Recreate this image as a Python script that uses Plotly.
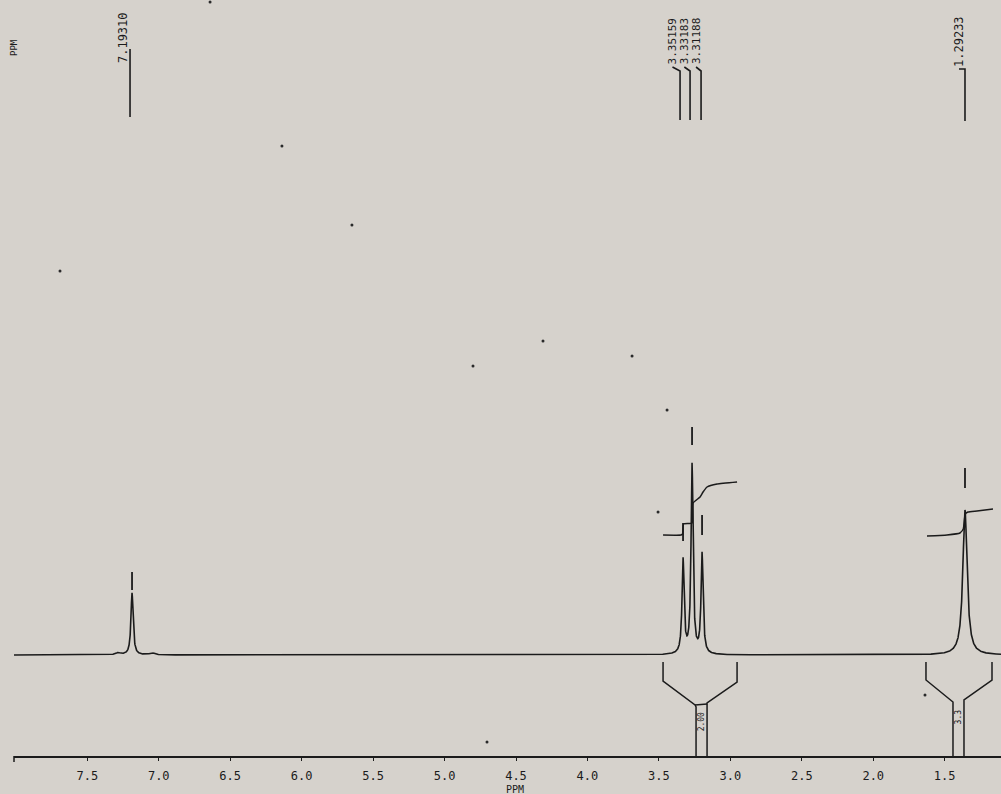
import numpy as np
import plotly.graph_objects as go

# ---------------- data ----------------
# main resonances (ppm, height in plot units above baseline, half width in ppm)
peak_ppm = [7.187, 3.331, 3.268, 3.198, 1.358]
peak_height = [62, 94, 189, 100, 145]
peak_hwhm = [0.009, 0.0085, 0.0085, 0.0085, 0.018]
# tiny satellites beside the 7.19 line
sat_ppm = [7.285, 7.047]
sat_height = [2, 2]
sat_hwhm = [0.02, 0.02]

# peak-pick labels printed at the top
label_text = ["7.19310", "3.35159", "3.33183", "3.31188", "1.29233"]

# integral traces (ppm, plot units)
int1_ppm = [3.471, 3.345, 3.334, 3.328, 3.268, 3.261, 3.212, 3.191, 3.163, 3.093, 2.953]
int1_val = [120, 120, 121, 131, 132, 152, 158, 163, 168, 171, 173]
int2_ppm = [1.624, 1.484, 1.393, 1.370, 1.356, 1.337, 1.274, 1.162]
int2_val = [119, 120, 122, 126, 141, 143, 144, 146]
integral_text = ["2.00", "3.3"]

# peak marker bars above the peaks (ppm, low, high)
mark_ppm = [7.187, 3.331, 3.268, 3.198, 1.358]
mark_lo = [65, 114, 210, 120, 167]
mark_hi = [83, 132, 228, 140, 187]

# axis ticks
tick_vals = [7.5, 7.0, 6.5, 6.0, 5.5, 5.0, 4.5, 4.0, 3.5, 3.0, 2.5, 2.0, 1.5]
tick_text = ["7.5", "7.0", "6.5", "6.0", "5.5", "5.0", "4.5", "4.0", "3.5", "3.0", "2.5", "2.0", "1.5"]

# specks of dust on the scanned sheet
speck_ppm = [6.138, 5.648, 7.691, 4.311, 4.801, 3.688, 3.443, 4.703, 1.638, 3.506, 6.641]
speck_val = [509, 430, 384, 314, 289, 299, 245, -87, -40, 143, 653]

# ---------------- geometry / style ----------------
PPM_LEFT, PPM_RIGHT = 8.013, 1.106
Y_LO, Y_HI = -101, 655
BG = "#d6d2cc"
INK = "#1b1b1b"
MONO = "DejaVu Sans Mono, Liberation Mono, monospace"

grid = np.linspace(PPM_LEFT, PPM_RIGHT, 14000)


def lorentz(x, c, h, w):
    return h / (1.0 + ((x - c) / w) ** 2)


spec = np.zeros_like(grid)
for c, h, w in zip(peak_ppm + sat_ppm, peak_height + sat_height, peak_hwhm + sat_hwhm):
    spec += lorentz(grid, c, h, w)

fig = go.Figure()

# spectrum
fig.add_trace(go.Scatter(x=grid, y=spec, mode="lines",
                         line=dict(color=INK, width=1.6), hoverinfo="skip"))

# integrals
fig.add_trace(go.Scatter(x=int1_ppm, y=int1_val, mode="lines",
                         line=dict(color=INK, width=1.5, shape="spline", smoothing=0.4),
                         hoverinfo="skip"))
fig.add_trace(go.Scatter(x=int2_ppm, y=int2_val, mode="lines",
                         line=dict(color=INK, width=1.5, shape="spline", smoothing=0.4),
                         hoverinfo="skip"))

# peak markers
mx, my = [], []
for p, lo, hi in zip(mark_ppm, mark_lo, mark_hi):
    mx += [p, p, None]
    my += [lo, hi, None]
fig.add_trace(go.Scatter(x=mx, y=my, mode="lines", line=dict(color=INK, width=1.8),
                         hoverinfo="skip"))

# label leader lines -- geometry
leader_ppm = [7.201, 3.352, 3.282, 3.205, 1.358]
leader_top = [606, 586, 586, 586, 586]
leader_bot = [538, 535, 535, 535, 534]
text_ppm = [7.250, 3.405, 3.322, 3.240, 1.400]
text_y = [617, 614, 614, 614, 614]
lx, ly = [], []
for i, (p, t, b) in enumerate(zip(leader_ppm, leader_top, leader_bot)):
    if i in (1, 2, 3):
        lx += [text_ppm[i], p, p, None]
        ly += [t + 2, t - 2, b, None]
    elif i == 4:
        lx += [text_ppm[i], p, p, None]
        ly += [t, t, b, None]
    else:
        lx += [p, p, None]
        ly += [t, b, None]
fig.add_trace(go.Scatter(x=lx, y=ly, mode="lines", line=dict(color=INK, width=1.6),
                         hoverinfo="skip"))

# integral brackets under the baseline
bx = [3.471, 3.471, 3.247, 3.240, 3.240, None,
      2.953, 2.953, 3.163, 3.163, None,
      3.247, 3.163, None,
      1.631, 1.631, 1.442, 1.442, None,
      1.169, 1.169, 1.365, 1.365, None]
by = [-7, -26, -50, -52, Y_LO, None,
      -7, -27, -48, Y_LO, None,
      -50, -49, None,
      -7, -25, -47, Y_LO, None,
      -7, -25, -45, Y_LO, None]
fig.add_trace(go.Scatter(x=bx, y=by, mode="lines", line=dict(color=INK, width=1.5),
                         hoverinfo="skip"))

# dust specks
fig.add_trace(go.Scatter(x=speck_ppm, y=speck_val, mode="markers",
                         marker=dict(color="#2a2a2a", size=3), hoverinfo="skip"))

annotations = []
for i, (t, x, y) in enumerate(zip(label_text, text_ppm, text_y)):
    annotations.append(dict(x=x, y=y, xref="x", yref="y", text=t, showarrow=False,
                            textangle=-90,
                            font=dict(family=MONO, size=11 if i in (1, 2, 3) else 12, color=INK),
                            xanchor="center", yanchor="middle"))
for t, x, y in zip(integral_text, [3.203, 1.404], [-67, -62]):
    annotations.append(dict(x=x, y=y, xref="x", yref="y", text=t, showarrow=False,
                            textangle=-90, font=dict(family=MONO, size=8, color=INK),
                            xanchor="center", yanchor="middle"))
annotations.append(dict(x=0.0, y=0.9365, xref="paper", yref="paper", text="PPM",
                        showarrow=False, textangle=-90,
                        font=dict(family=MONO, size=9, color=INK),
                        xanchor="center", yanchor="middle"))
annotations.append(dict(x=0.5076, y=-0.0437, xref="paper", yref="paper", text="PPM",
                        showarrow=False, font=dict(family=MONO, size=10, color=INK),
                        xanchor="center", yanchor="middle"))

fig.update_layout(
    width=1001, height=794,
    margin=dict(l=14, r=0, t=0, b=38),
    paper_bgcolor=BG, plot_bgcolor=BG,
    showlegend=False,
    annotations=annotations,
    shapes=[dict(type="line", xref="paper", yref="paper", x0=0, x1=0, y0=0, y1=-0.008,
                 line=dict(color=INK, width=1.5))],
    xaxis=dict(range=[PPM_LEFT, PPM_RIGHT], showgrid=False, zeroline=False,
               showline=True, linecolor=INK, linewidth=1.5,
               ticks="outside", ticklen=3, tickwidth=1.3, tickcolor=INK,
               tickvals=tick_vals, ticktext=tick_text, ticklabelstandoff=5,
               tickfont=dict(family=MONO, size=12, color=INK), fixedrange=True),
    yaxis=dict(range=[Y_LO, Y_HI], visible=False, fixedrange=True),
)

fig.write_html("out.html", config={"displayModeBar": False},
               post_script="document.body.style.margin='0';document.body.style.background='%s';" % BG)
